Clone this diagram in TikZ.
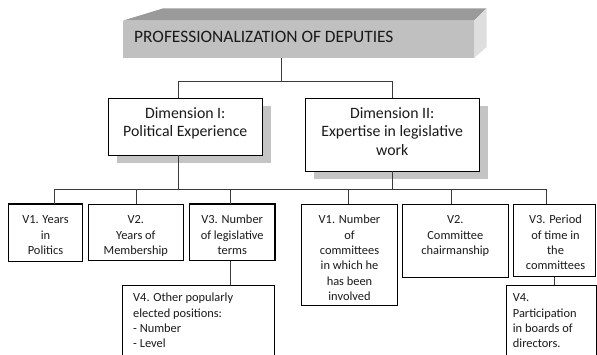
\documentclass[tikz,border=0pt]{standalone}
\usepackage{fontspec}
\setmainfont{Carlito}
\definecolor{banfront}{HTML}{C0C0C0}
\definecolor{bantop}{HTML}{9A9A9A}
\definecolor{banright}{HTML}{DEDEDE}
\definecolor{shadowgray}{HTML}{C4C4C4}
\definecolor{conncol}{HTML}{3A3A3A}
\definecolor{txtcol}{HTML}{1A1A1A}
\begin{document}
\begin{tikzpicture}[x=1pt,y=-1pt,
  boxst/.style={draw=black, line width=0.9pt, fill=white, inner sep=0pt, outer sep=0pt, anchor=north west},
  shadowst/.style={fill=shadowgray, inner sep=0pt, outer sep=0pt, anchor=north west},
  conn/.style={draw=conncol, line width=0.9pt},
  rowtxt/.style={font=\fontsize{12.4}{15.3}\selectfont, inner sep=0pt, anchor=north, align=center, text=txtcol},
  lefttxt/.style={font=\fontsize{12.4}{15.3}\selectfont, inner sep=0pt, anchor=north west, align=left, text=txtcol},
  dimtxt/.style={font=\fontsize{15.8}{18.3}\selectfont, inner sep=0pt, anchor=north, align=center, text=txtcol}
]
\useasboundingbox (0,0) rectangle (597,354);
\clip (0,0) rectangle (597,354);

% banner
\fill[bantop] (122.7,20.7) -- (163.3,8.3) -- (486.7,8.3) -- (474,20.7) -- cycle;
\fill[banright] (474,20.7) -- (486.7,8.3) -- (486.7,46.7) -- (474,58.3) -- cycle;
\node[fill=banfront, inner sep=0pt, outer sep=0pt, anchor=north west, minimum width=351.3pt, minimum height=37.6pt] (banner) at (122.7,20.7) {};
\node[anchor=base west, inner sep=0pt, font=\fontsize{17.4}{20}\selectfont, text=txtcol] (bannertext) at (134,42.2) {PROFESSIONALIZATION OF DEPUTIES};

% helper coordinates
\coordinate (bus0) at (281,81.5);
\coordinate (bus1) at (0,189.5);
\coordinate (d1x) at (178,0);
\coordinate (s1) at (54.3,0);
\coordinate (s2) at (136.7,0);
\coordinate (s3) at (230,0);
\coordinate (s4) at (348.3,0);
\coordinate (s5) at (451.7,0);
\coordinate (s6) at (546.7,0);
\coordinate (s7) at (230,0);
\coordinate (s8) at (554,0);

% shadows
\node[shadowst, minimum width=154pt, minimum height=56.7pt] (dim1sh) at (117.3,106.3) {};
\node[shadowst, minimum width=174.3pt, minimum height=72.7pt] (dim2sh) at (314,106.3) {};

% boxes
\node[boxst, line width=1pt, minimum width=154pt, minimum height=56.7pt] (dim1) at (108.3,98.3) {};
\node[boxst, line width=1pt, minimum width=174.3pt, minimum height=72.7pt] (dim2) at (305,98.3) {};

\node[boxst, line width=1.4pt, minimum width=74.4pt, minimum height=57.5pt] (v1l) at (8.3,204) {};
\node[boxst, minimum width=95pt, minimum height=56pt] (v2l) at (88.3,204) {};
\node[boxst, line width=1.2pt, minimum width=85.7pt, minimum height=56.7pt] (v3l) at (189.3,204) {};
\node[boxst, minimum width=151.3pt, minimum height=100pt] (v4l) at (122.7,285) {};
\node[boxst, minimum width=95.6pt, minimum height=101pt] (v1r) at (301.7,204) {};
\node[boxst, minimum width=106pt, minimum height=73.3pt] (v2r) at (402.3,204) {};
\node[boxst, minimum width=82.7pt, minimum height=72.7pt] (v3r) at (513,204) {};
\node[boxst, minimum width=89.3pt, minimum height=100pt] (v4r) at (506.7,285) {};

% connectors
\draw[conn] (banner.south -| bus0) -- (bus0);
\draw[conn] (dim1.north -| d1x) -- (d1x |- bus0) -- (bus0 -| dim2.north) -- (dim2.north);
\draw[conn] (dim1.south -| d1x) -- (d1x |- bus1);
\draw[conn] (dim2.south) -- (dim2.south |- bus1);
\draw[conn] (v1l.north -| s1) -- (s1 |- bus1) -- (s6 |- bus1) -- (v3r.north -| s6);
\draw[conn] (s2 |- bus1) -- (v2l.north -| s2);
\draw[conn] (s3 |- bus1) -- (v3l.north -| s3);
\draw[conn] (s4 |- bus1) -- (v1r.north -| s4);
\draw[conn] (s5 |- bus1) -- (v2r.north -| s5);
\draw[conn] (v3l.south -| s7) -- (v4l.north -| s7);
\draw[conn] (v3r.south -| s8) -- (v4r.north -| s8);

% texts
\node[dimtxt] (dim1t) at (185.3,105.5) {\strut Dimension I:\\Political Experience};
\node[dimtxt] (dim2t) at (392.2,105.5) {\strut Dimension II:\\Expertise in legislative\\work};

\node[rowtxt] (v1lt) at (45.5,213) {\strut V1. Years\\in\\Politics};
\node[rowtxt] (v2lt) at (135.8,213) {\strut V2.\\Years of\\Membership};
\node[rowtxt] (v3lt) at (232.2,213) {\strut V3. Number\\of legislative\\terms};
\node[rowtxt] (v1rt) at (349.5,213) {\strut V1. Number\\of\\committees\\in which he\\has been\\involved};
\node[rowtxt] (v2rt) at (455.3,213) {\strut V2.\\Committee\\chairmanship};
\node[rowtxt] (v3rt) at (555.5,213) {\strut V3. Period\\of time in\\the\\committees};
\node[lefttxt] (v4lt) at (133,291) {\strut V4. Other popularly\\elected positions:\\- Number\\- Level};
\node[lefttxt] (v4rt) at (512.7,291) {\strut V4.\\Participation\\in boards of\\directors.};
\end{tikzpicture}
\end{document}
